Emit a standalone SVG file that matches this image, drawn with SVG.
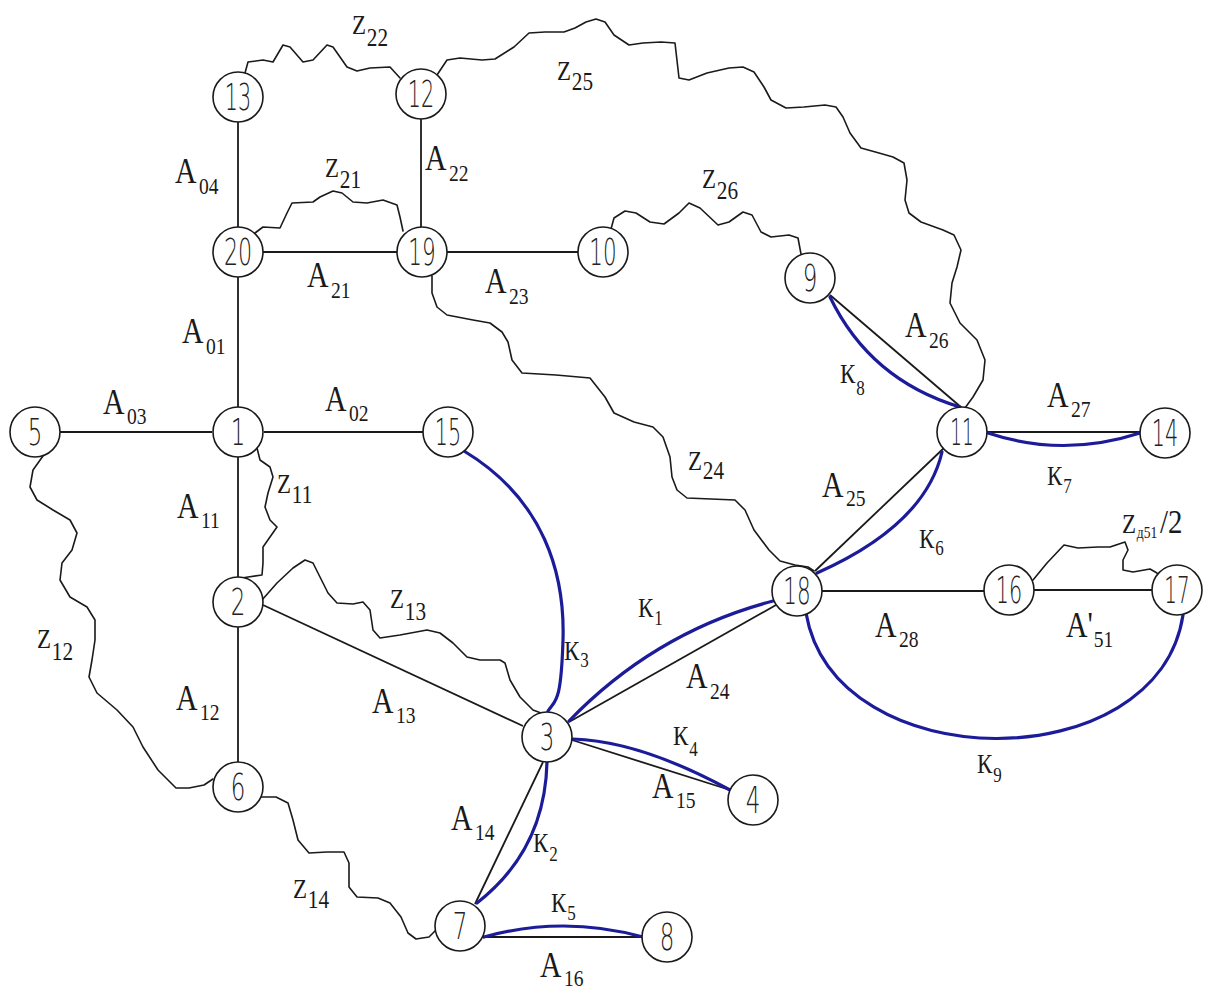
<svg xmlns="http://www.w3.org/2000/svg" width="1208" height="990" viewBox="0 0 1208 990">
<style>
.ln{stroke:#1a1a1a;stroke-width:1.8;fill:none}
.wv{stroke:#1a1a1a;stroke-width:1.6;fill:none;stroke-linejoin:round;stroke-linecap:round}
.bl{stroke:#1c1c9a;stroke-width:3.2;fill:none;stroke-linecap:round}
.nd circle{fill:#fff;stroke:#1a1a1a;stroke-width:1.6}
.nd text{font-family:"DejaVu Sans","Liberation Sans",sans-serif;font-size:37px;text-anchor:middle;fill:#222;font-weight:300}
.lb{font-family:"Liberation Serif","Noto Sans CJK SC",serif;fill:#1a1a1a}
.a{font-size:35px}
.s{font-size:23px}
.z{font-size:27px}
.zs{font-size:25px}
.ks{font-size:20px}
</style>
<rect width="1208" height="990" fill="#fff"/>
<g id="connectors">
  <line class="ln" x1="238" y1="122" x2="238" y2="227"/>
  <line class="ln" x1="421" y1="119" x2="421" y2="227"/>
  <line class="ln" x1="263" y1="252" x2="397" y2="252"/>
  <line class="ln" x1="447" y1="252" x2="578" y2="252"/>
  <line class="ln" x1="238" y1="277" x2="238" y2="407"/>
  <line class="ln" x1="60" y1="432" x2="212" y2="432"/>
  <line class="ln" x1="264" y1="432" x2="423" y2="432"/>
  <line class="ln" x1="238" y1="457" x2="238" y2="577"/>
  <line class="ln" x1="238" y1="627" x2="238" y2="762"/>
  <line class="ln" x1="263" y1="605" x2="523" y2="726"/>
  <line class="ln" x1="569" y1="722" x2="776" y2="605"/>
  <line class="ln" x1="572" y1="740" x2="730" y2="790"/>
  <line class="ln" x1="543" y1="762" x2="475" y2="904"/>
  <line class="ln" x1="484" y1="937" x2="643" y2="937"/>
  <line class="ln" x1="830" y1="295" x2="962" y2="408"/>
  <line class="ln" x1="987" y1="432" x2="1140" y2="432"/>
  <line class="ln" x1="815" y1="571" x2="945" y2="447"/>
  <line class="ln" x1="822" y1="591" x2="984" y2="591"/>
  <line class="ln" x1="1034" y1="590" x2="1153" y2="590"/>
  <path class="bl" d="M464,451 C545,500 565,575 563,640 S555,700 548,711"/>
  <path class="bl" d="M569,721 Q655,632 773,601"/>
  <path class="bl" d="M573,739 Q640,741 730,790"/>
  <path class="bl" d="M547,762 Q545,850 477,903"/>
  <path class="bl" d="M484,937 Q563,915 643,937"/>
  <path class="bl" d="M830,297 Q870,380 960,407"/>
  <path class="bl" d="M988,433 Q1063,458 1140,433"/>
  <path class="bl" d="M817,573 Q925,525 942,452"/>
  <path class="bl" d="M806,613 C835,780 1158,780 1183,615"/>
  <path class="wv" d="M245,73 L248,62 263,60 273,62 283,45 290,47 303,62 313,60 327,45 333,47 347,67 357,71 370,68 390,67 400,78"/>
  <path class="wv" d="M437,75 L447,60 460,58 482,60 495,59 514,47 529,33 545,32 564,32 575,28 586,22 596,19 605,22 614,35 629,45 643,43 661,42 675,43 679,78 689,80 707,73 729,68 743,67 754,72 764,87 771,100 786,108 804,107 825,105 836,107 843,117 850,133 861,148 879,153 893,157 904,163 907,180 905,200 909,213 921,222 943,230 954,235 961,250 957,267 952,283 950,303 960,323 977,340 985,360 983,380 973,397 965,408"/>
  <path class="wv" d="M255,233 L263,227 280,228 287,213 292,203 313,202 320,197 333,191 342,193 353,202 367,203 383,200 397,205 400,217 403,231"/>
  <path class="wv" d="M611,229 L614,218 625,211 636,213 650,222 664,224 679,213 689,203 700,208 718,225 729,222 743,212 752,215 761,232 771,237 789,235 798,238 801,254"/>
  <path class="wv" d="M432,276 L432,293 437,307 447,315 473,320 490,323 502,332 508,342 512,360 522,373 556,375 590,378 605,397 614,413 634,422 653,427 663,437 670,457 672,477 677,490 687,498 735,500 745,510 754,530 769,550 780,561 795,565 808,567 814,571"/>
  <path class="wv" d="M257,448 L260,460 270,467 273,477 268,493 265,507 270,520 277,527 270,537 263,547 263,563 262,575 248,577 242,578"/>
  <path class="wv" d="M43,456 L33,470 30,487 37,500 53,510 70,520 77,533 72,550 62,563 60,580 70,597 87,607 95,620 95,640 92,660 89,677 97,693 117,710 133,727 143,747 158,770 176,788 189,788 204,785 213,779"/>
  <path class="wv" d="M262,600 L277,583 293,568 305,560 313,563 320,577 328,593 337,603 353,604 363,602 370,610 373,630 380,638 400,635 427,630 440,633 453,643 467,657 480,660 500,660 505,663 510,680 520,697 533,710 541,713"/>
  <path class="wv" d="M261,797 L276,797 288,803 293,820 298,840 309,853 327,852 344,852 349,863 349,887 357,897 378,898 390,903 401,917 408,933 416,939 429,937 437,929"/>
  <path class="wv" d="M1033,580 L1047,563 1064,545 1078,548 1098,547 1110,547 1125,542 1128,550 1123,560 1123,570 1133,572 1150,569 1157,573 1160,579"/>
</g>
<g id="nodes">
  <g id="n13" class="nd"><circle cx="238" cy="97" r="25"/><text transform="translate(238 110) scale(.56 1)">13</text></g>
  <g id="n12" class="nd"><circle cx="421" cy="94" r="25"/><text transform="translate(421 107) scale(.56 1)">12</text></g>
  <g id="n20" class="nd"><circle cx="238" cy="252" r="25"/><text transform="translate(238 265) scale(.6 1)">20</text></g>
  <g id="n19" class="nd"><circle cx="422" cy="252" r="25"/><text transform="translate(422 265) scale(.58 1)">19</text></g>
  <g id="n10" class="nd"><circle cx="603" cy="252" r="25"/><text transform="translate(603 265) scale(.58 1)">10</text></g>
  <g id="n9" class="nd"><circle cx="810" cy="278" r="25"/><text transform="translate(810 291) scale(.62 1)">9</text></g>
  <g id="n5" class="nd"><circle cx="35" cy="432" r="25"/><text transform="translate(35 445) scale(.62 1)">5</text></g>
  <g id="n1" class="nd"><circle cx="238" cy="432" r="25"/><text transform="translate(238 445) scale(.62 1)">1</text></g>
  <g id="n15" class="nd"><circle cx="448" cy="432" r="25"/><text transform="translate(448 445) scale(.56 1)">15</text></g>
  <g id="n11" class="nd"><circle cx="962" cy="432" r="25"/><text transform="translate(962 445) scale(.5 1)">11</text></g>
  <g id="n14" class="nd"><circle cx="1165" cy="433" r="25"/><text transform="translate(1165 446) scale(.56 1)">14</text></g>
  <g id="n2" class="nd"><circle cx="238" cy="602" r="25"/><text transform="translate(238 615) scale(.62 1)">2</text></g>
  <g id="n18" class="nd"><circle cx="797" cy="591" r="25"/><text transform="translate(797 604) scale(.58 1)">18</text></g>
  <g id="n16" class="nd"><circle cx="1009" cy="590" r="25"/><text transform="translate(1009 603) scale(.56 1)">16</text></g>
  <g id="n17" class="nd"><circle cx="1177" cy="590" r="25"/><text transform="translate(1177 603) scale(.54 1)">17</text></g>
  <g id="n3" class="nd"><circle cx="547" cy="737" r="25"/><text transform="translate(547 750) scale(.62 1)">3</text></g>
  <g id="n6" class="nd"><circle cx="238" cy="787" r="25"/><text transform="translate(238 800) scale(.62 1)">6</text></g>
  <g id="n4" class="nd"><circle cx="753" cy="800" r="25"/><text transform="translate(753 813) scale(.62 1)">4</text></g>
  <g id="n7" class="nd"><circle cx="460" cy="926" r="25"/><text transform="translate(460 939) scale(.62 1)">7</text></g>
  <g id="n8" class="nd"><circle cx="667" cy="937" r="25"/><text transform="translate(667 950) scale(.62 1)">8</text></g>
</g>
<g id="labels">
  <text class="lb a" transform="translate(175 183) scale(.85 1)">A<tspan class="s" dx="3" dy="11">04</tspan></text>
  <text class="lb a" transform="translate(425 170) scale(.85 1)">A<tspan class="s" dx="3" dy="11">22</tspan></text>
  <text class="lb a" transform="translate(307 287) scale(.85 1)">A<tspan class="s" dx="3" dy="11">21</tspan></text>
  <text class="lb a" transform="translate(485 293) scale(.85 1)">A<tspan class="s" dx="3" dy="11">23</tspan></text>
  <text class="lb a" transform="translate(182 343) scale(.85 1)">A<tspan class="s" dx="3" dy="11">01</tspan></text>
  <text class="lb a" transform="translate(103 414) scale(.85 1)">A<tspan class="s" dx="3" dy="10">03</tspan></text>
  <text class="lb a" transform="translate(325 411) scale(.85 1)">A<tspan class="s" dx="3" dy="10">02</tspan></text>
  <text class="lb a" transform="translate(177 518) scale(.85 1)">A<tspan class="s" dx="3" dy="10">11</tspan></text>
  <text class="lb a" transform="translate(176 710) scale(.85 1)">A<tspan class="s" dx="3" dy="10">12</tspan></text>
  <text class="lb a" transform="translate(372 713) scale(.85 1)">A<tspan class="s" dx="3" dy="10">13</tspan></text>
  <text class="lb a" transform="translate(686 688) scale(.85 1)">A<tspan class="s" dx="3" dy="11">24</tspan></text>
  <text class="lb a" transform="translate(652 798) scale(.85 1)">A<tspan class="s" dx="3" dy="10">15</tspan></text>
  <text class="lb a" transform="translate(451 830) scale(.85 1)">A<tspan class="s" dx="3" dy="10">14</tspan></text>
  <text class="lb a" transform="translate(540 977) scale(.85 1)">A<tspan class="s" dx="3" dy="9">16</tspan></text>
  <text class="lb a" transform="translate(875 637) scale(.85 1)">A<tspan class="s" dx="3" dy="10">28</tspan></text>
  <text class="lb a" transform="translate(1066 637) scale(.85 1)">A'<tspan class="s" dx="1" dy="10">51</tspan></text>
  <text class="lb a" transform="translate(822 497) scale(.85 1)">A<tspan class="s" dx="3" dy="9">25</tspan></text>
  <text class="lb a" transform="translate(1047 407) scale(.85 1)">A<tspan class="s" dx="3" dy="10">27</tspan></text>
  <text class="lb a" transform="translate(905 337) scale(.85 1)">A<tspan class="s" dx="3" dy="11">26</tspan></text>
  <text class="lb z" transform="translate(352 34) scale(.85 1)">Z<tspan class="zs" dx="1" dy="12">22</tspan></text>
  <text class="lb z" transform="translate(325 177) scale(.85 1)">Z<tspan class="zs" dx="1" dy="11">21</tspan></text>
  <text class="lb z" transform="translate(557 80) scale(.85 1)">Z<tspan class="zs" dx="1" dy="10">25</tspan></text>
  <text class="lb z" transform="translate(702 188) scale(.85 1)">Z<tspan class="zs" dx="1" dy="11">26</tspan></text>
  <text class="lb z" transform="translate(688 470) scale(.85 1)">Z<tspan class="zs" dx="1" dy="9">24</tspan></text>
  <text class="lb z" transform="translate(277 493) scale(.85 1)">Z<tspan class="zs" dx="1" dy="10">11</tspan></text>
  <text class="lb z" transform="translate(37 648) scale(.85 1)">Z<tspan class="zs" dx="1" dy="12">12</tspan></text>
  <text class="lb z" transform="translate(390 608) scale(.85 1)">Z<tspan class="zs" dx="1" dy="12">13</tspan></text>
  <text class="lb z" transform="translate(293 898) scale(.85 1)">Z<tspan class="zs" dx="1" dy="10">14</tspan></text>
  <text class="lb z" transform="translate(1122 533) scale(.85 1)">Z<tspan font-size="16" dx="1" dy="5">д51</tspan><tspan font-size="34" dx="3" dy="-5">/2</tspan></text>
  <text class="lb z" transform="translate(638 617) scale(.85 1)">К<tspan class="ks" dx="1" dy="8">1</tspan></text>
  <text class="lb z" transform="translate(564 660) scale(.85 1)">К<tspan class="ks" dx="1" dy="7">3</tspan></text>
  <text class="lb z" transform="translate(673 745) scale(.85 1)">К<tspan class="ks" dx="1" dy="11">4</tspan></text>
  <text class="lb z" transform="translate(533 852) scale(.85 1)">К<tspan class="ks" dx="1" dy="9">2</tspan></text>
  <text class="lb z" transform="translate(551 912) scale(.85 1)">К<tspan class="ks" dx="1" dy="8">5</tspan></text>
  <text class="lb z" transform="translate(840 383) scale(.85 1)">К<tspan class="ks" dx="1" dy="12">8</tspan></text>
  <text class="lb z" transform="translate(1047 485) scale(.85 1)">К<tspan class="ks" dx="1" dy="8">7</tspan></text>
  <text class="lb z" transform="translate(919 548) scale(.85 1)">К<tspan class="ks" dx="1" dy="7">6</tspan></text>
  <text class="lb z" transform="translate(977 773) scale(.85 1)">К<tspan class="ks" dx="1" dy="9">9</tspan></text>
</g>
</svg>
